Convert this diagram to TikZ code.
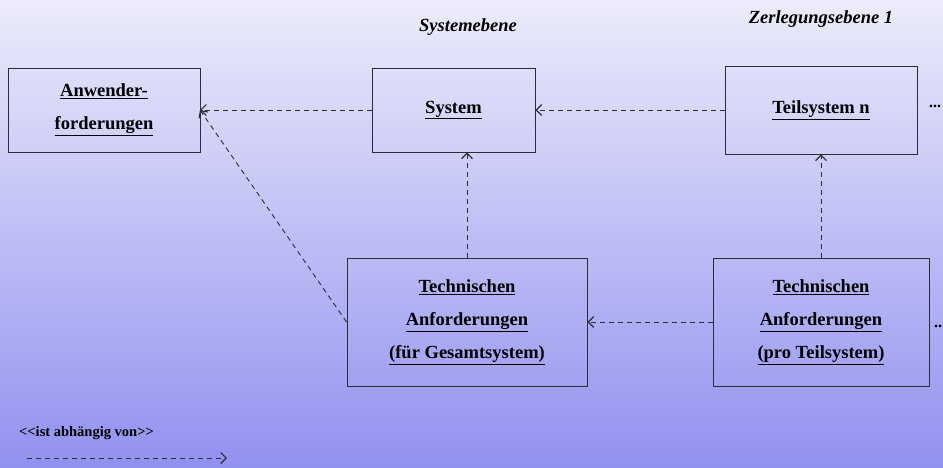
\documentclass[tikz,border=0pt]{standalone}
\usepackage{fontspec}
\setmainfont{Liberation Serif}
\usetikzlibrary{arrows.meta}
\definecolor{bgtop}{RGB}{236,236,251}
\definecolor{bgbottom}{RGB}{145,145,240}
\definecolor{edge}{RGB}{45,45,55}
\newcommand{\ulline}[1]{\underline{#1}}
\begin{document}
\begin{tikzpicture}[x=1pt,y=-1pt,
  block/.style={draw=edge, line width=0.9pt, minimum width=#1, align=center,
    font=\fontsize{18.5}{33}\selectfont\bfseries, inner sep=0pt},
  block/.default=190pt,
  dep/.style={draw=edge, line width=0.9pt, dash pattern=on 5pt off 4pt,
    -{Straight Barb[length=5.5pt,width=11pt,line width=1.1pt]}},
  level/.style={font=\fontsize{18.5}{22}\selectfont\bfseries\itshape},
  dots/.style={font=\fontsize{16}{18}\selectfont\bfseries}]
  % background
  \shade[top color=bgtop, bottom color=bgbottom] (0,0) rectangle (943,468);
  \useasboundingbox (0,0) rectangle (943,468);

  % level titles
  \node[level] (lvl0) at (468,27) {Systemebene};
  \node[level] (lvl1) at (821,19) {Zerlegungsebene 1};

  % requirement blocks
  \node[block=192pt, minimum height=84pt] (anw) at (104,110)
    {\ulline{Anwender-}\\\ulline{forderungen}};
  \node[block=163pt, minimum height=84pt] (sys) at (453.5,110)
    {\ulline{System}};
  \node[block=192pt, minimum height=88pt] (teil) at (821,110)
    {\ulline{Teilsystem n}};
  \node[block=240pt, minimum height=128pt] (tag) at (467,322)
    {\ulline{Technischen}\\\ulline{Anforderungen}\\\ulline{(für Gesamtsystem)}};
  \node[block=216pt, minimum height=128pt] (tat) at (821,322)
    {\ulline{Technischen}\\\ulline{Anforderungen}\\\ulline{(pro Teilsystem)}};

  % continuation marks
  \node[dots, anchor=west, inner sep=0pt] (more1) at (929,106) {...};
  \node[dots, anchor=west, inner sep=0pt] (more2) at (934,326) {...};

  % dependencies
  \coordinate (anwin) at (200,110);
  \draw[dep] (sys.west) -- (anwin);
  \draw[dep] (teil.west |- sys.west) -- (sys.east);
  \draw[dep] (tag.north) -- (tag.north |- sys.south);
  \draw[dep] (tag.west) -- (anwin);
  \draw[dep] (tat.west) -- (tag.east);
  \draw[dep] (tat.north) -- (teil.south);

  % legend
  \node[font=\fontsize{14.5}{16}\selectfont\bfseries, anchor=west, inner sep=0pt] (legend) at (19,433)
    {<{}<ist abhängig von>{}>};
  \coordinate (legA) at (27,458);
  \coordinate (legB) at (227,458);
  \draw[dep] (legA) -- (legB);
\end{tikzpicture}
\end{document}
